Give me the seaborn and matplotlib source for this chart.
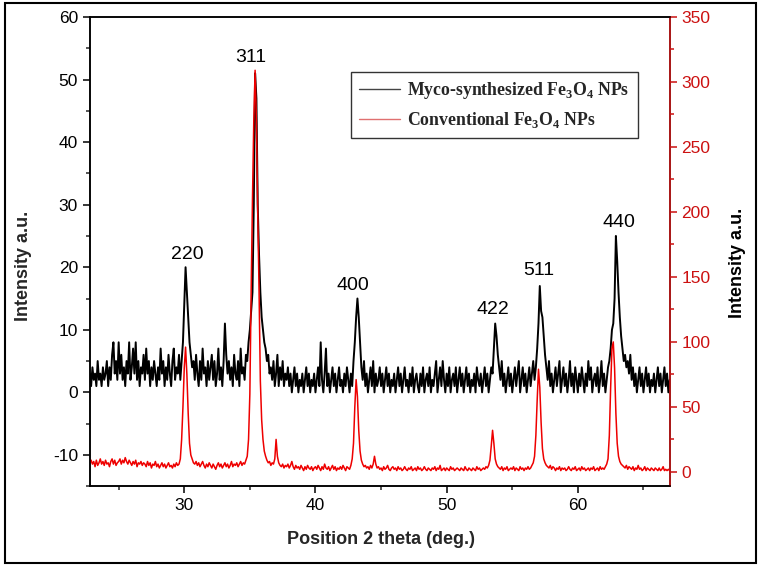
import numpy as np
import matplotlib
matplotlib.use("Agg")
import matplotlib.pyplot as plt
import seaborn as sns
from matplotlib.ticker import MultipleLocator
from matplotlib.patches import Rectangle

theta_start = 22.8
theta_step = 0.1

# Myco-synthesized Fe3O4 NPs, left axis
myco_counts = [
    3, 1,                                   # 22.8-22.9
    4, 2, 3, 1, 5, 2, 3, 1, 4, 2,           # 23
    3, 5, 1, 4, 2, 6, 8, 3, 5, 2,           # 24
    8, 3, 6, 2, 4, 1, 5, 3, 8, 2,           # 25
    4, 7, 3, 8, 2, 5, 1, 4, 3, 6,           # 26
    2, 7, 3, 5, 1, 4, 2, 5, 3, 1,           # 27
    4, 2, 7, 3, 5, 1, 4, 2, 6, 3,           # 28
    1, 5, 7, 2, 4, 3, 6, 2, 5, 8,           # 29
    14, 20, 16, 12, 8, 6, 4, 5, 2, 6,       # 30
    3, 1, 5, 2, 7, 3, 4, 1, 5, 2,           # 31
    4, 6, 2, 5, 1, 3, 7, 2, 4, 1,           # 32
    5, 11, 6, 3, 5, 2, 4, 1, 6, 3,          # 33
    2, 5, 1, 7, 3, 4, 2, 6, 5, 8,           # 34
    10, 13, 16, 30, 51, 47, 30, 22, 16, 12, # 35
    10, 8, 7, 5, 6, 3, 4, 2, 5, 1,          # 36
    3, 6, 1, 4, 2, 5, 1, 3, 2, 4,           # 37
    1, 3, 0, 2, 4, 1, 3, 0, 2, 1,           # 38
    3, 0, 2, 4, 1, 3, 0, 2, 1, 3,           # 39
    0, 2, 4, 1, 8, 2, 0, 3, 7, 1,           # 40
    3, 0, 2, 4, 1, 3, 0, 2, 4, 1,           # 41
    2, 0, 3, 1, 4, 2, 0, 3, 1, 5,           # 42
    8, 12, 15, 12, 8, 4, 2, 5, 1, 3,        # 43
    0, 2, 4, 1, 5, 0, 3, 1, 2, 4,           # 44
    1, 3, 0, 2, 4, 1, 3, 0, 2, 1,           # 45
    3, 0, 2, 4, 1, 3, 0, 2, 4, 1,           # 46
    2, 0, 3, 1, 4, 0, 2, 3, 1, 0,           # 47
    3, 1, 4, 0, 2, 3, 1, 4, 0, 2,           # 48
    1, 3, 5, 0, 2, 4, 1, 5, 2, 0,           # 49
    3, 1, 4, 0, 2, 3, 1, 4, 0, 2,           # 50
    4, 1, 3, 0, 2, 4, 1, 3, 0, 2,           # 51
    1, 3, 0, 4, 2, 1, 3, 0, 2, 4,           # 52
    1, 3, 0, 2, 4, 3, 7, 11, 9, 6,          # 53
    4, 2, 5, 1, 3, 0, 2, 4, 1, 3,           # 54
    0, 2, 4, 1, 3, 5, 0, 2, 4, 1,           # 55
    3, 0, 2, 4, 1, 3, 5, 2, 4, 7,           # 56
    11, 17, 13, 12, 9, 6, 4, 2, 5, 1,       # 57
    3, 0, 2, 4, 1, 3, 5, 0, 2, 4,           # 58
    1, 3, 0, 2, 5, 1, 3, 0, 4, 2,           # 59
    0, 3, 1, 4, 2, 0, 3, 1, 5, 2,           # 60
    4, 0, 2, 3, 1, 4, 0, 2, 5, 1,           # 61
    3, 0, 2, 4, 5, 7, 10, 11, 15, 25,       # 62
    21, 16, 12, 9, 7, 5, 6, 4, 5, 3,        # 63
    6, 2, 4, 1, 3, 0, 2, 4, 1, 3,           # 64
    0, 2, 4, 1, 3, 0, 2, 1, 3, 0,           # 65
    2, 4, 1, 3, 0, 2, 4, 1, 3, 0,           # 66
    2,                                      # 67.0
]

# Conventional Fe3O4 NPs, right axis
conv_counts = [
    7, 9,                                        # 22.8-22.9
    6, 8, 4, 9, 5, 7, 10, 6, 8, 5,               # 23
    9, 6, 7, 4, 8, 10, 6, 9, 5, 7,               # 24
    8, 10, 6, 9, 7, 11, 8, 6, 9, 7,              # 25
    5, 8, 6, 9, 4, 7, 6, 8, 5, 7,                # 26
    6, 4, 8, 5, 7, 3, 6, 5, 8, 4,                # 27
    6, 3, 5, 7, 4, 6, 3, 5, 7, 4,                # 28
    5, 3, 6, 4, 7, 5, 6, 10, 25, 50,             # 29
    80, 96, 75, 45, 22, 13, 10, 7, 6, 8,         # 30
    5, 7, 4, 6, 8, 5, 3, 6, 4, 7,                # 31
    5, 3, 6, 4, 2, 5, 7, 4, 6, 3,                # 32
    5, 7, 4, 6, 3, 5, 8, 4, 6, 5,                # 33
    7, 4, 6, 8, 5, 7, 6, 9, 12, 25,              # 34
    60, 140, 210, 270, 309, 270, 200, 140, 70, 40,  # 35
    25, 16, 12, 9, 7, 8, 5, 7, 6, 10,            # 36
    25, 12, 7, 5, 4, 6, 3, 5, 4, 6,              # 37
    3, 5, 8, 4, 2, 5, 3, 4, 2, 5,                # 38
    3, 1, 4, 2, 5, 3, 2, 4, 1, 3,                # 39
    4, 2, 5, 3, 1, 4, 2, 6, 3, 2,                # 40
    4, 1, 3, 5, 2, 4, 1, 3, 2, 4,                # 41
    2, 5, 3, 1, 4, 3, 2, 5, 10, 22,              # 42
    50, 71, 58, 32, 16, 9, 6, 4, 5, 3,           # 43
    4, 2, 5, 3, 6, 12, 6, 3, 4, 2,               # 44
    3, 1, 4, 2, 3, 5, 2, 1, 3, 4,                # 45
    2, 3, 1, 4, 2, 3, 1, 2, 4, 2,                # 46
    1, 3, 2, 4, 1, 2, 3, 1, 4, 2,                # 47
    3, 1, 2, 4, 2, 1, 3, 2, 1, 3,                # 48
    2, 4, 1, 3, 2, 5, 1, 2, 3, 1,                # 49
    3, 2, 1, 4, 2, 3, 1, 2, 3, 2,                # 50
    1, 3, 2, 1, 4, 2, 1, 3, 2, 1,                # 51
    3, 2, 1, 4, 2, 3, 1, 2, 3, 2,                # 52
    4, 3, 5, 9, 20, 32, 22, 10, 6, 4,            # 53
    3, 2, 4, 1, 3, 2, 4, 1, 2, 3,                # 54
    2, 4, 1, 3, 2, 1, 4, 2, 3, 1,                # 55
    3, 2, 4, 2, 3, 5, 7, 12, 28, 55,             # 56
    79, 65, 38, 18, 10, 7, 5, 4, 3, 5,           # 57
    2, 4, 3, 1, 3, 2, 4, 1, 3, 2,                # 58
    3, 1, 2, 4, 2, 1, 3, 2, 4, 1,                # 59
    2, 3, 1, 4, 2, 3, 1, 2, 3, 1,                # 60
    3, 2, 4, 1, 2, 3, 1, 4, 2, 3,                # 61
    2, 4, 6, 10, 28, 65, 95, 100, 80, 45,        # 62
    22, 12, 8, 6, 5, 4, 3, 5, 2, 4,              # 63
    3, 2, 4, 1, 3, 2, 5, 2, 3, 1,                # 64
    2, 4, 1, 3, 2, 1, 3, 2, 1, 3,                # 65
    2, 1, 3, 1, 2, 4, 1, 2, 1, 2,                # 66
    1,                                           # 67.0
]

# Miller index annotations (label, 2theta, left-axis height)
peak_labels = ["220", "311", "400", "422", "511", "440"]
peak_theta = [30.2, 35.05, 42.85, 53.5, 57.0, 63.1]
peak_height = [22.0, 53.6, 17.0, 13.3, 19.5, 27.2]

sns.set_style("ticks")
plt.rcParams["font.family"] = ["Liberation Sans", "DejaVu Sans"]
plt.rcParams["axes.unicode_minus"] = False
plt.rcParams["mathtext.fontset"] = "custom"
plt.rcParams["mathtext.rm"] = "Liberation Serif:bold"
plt.rcParams["mathtext.bf"] = "Liberation Serif:bold"

AXIS_RED = "#cc1111"
LINE_RED = "#ee0000"

theta_myco = theta_start + theta_step * np.arange(len(myco_counts))
theta_conv = theta_start + theta_step * np.arange(len(conv_counts))

fig = plt.figure(figsize=(7.61, 5.66), dpi=100)
ax = fig.add_axes([0.118, 0.141, 0.762, 0.829])
ax2 = ax.twinx()

sns.lineplot(x=theta_myco, y=myco_counts, ax=ax, color="black", lw=1.4, sort=False,
             label=r"Myco-synthesized Fe$_3$O$_4$ NPs", legend=False)
sns.lineplot(x=theta_conv, y=conv_counts, ax=ax2, color=LINE_RED, lw=1.1, sort=False,
             label=r"Conventional Fe$_3$O$_4$ NPs", legend=False)

ax.set_xlim(22.8, 67.0)
ax.set_ylim(-15, 60)
ax2.set_ylim(-11, 350)

ax.xaxis.set_major_locator(MultipleLocator(10))
ax.xaxis.set_minor_locator(MultipleLocator(5))
ax.yaxis.set_major_locator(MultipleLocator(10))
ax.yaxis.set_minor_locator(MultipleLocator(5))
ax2.yaxis.set_major_locator(MultipleLocator(50))
ax2.yaxis.set_minor_locator(MultipleLocator(25))

for a in (ax, ax2):
    for s in a.spines.values():
        s.set_linewidth(1.1)
        s.set_color("black")
ax2.spines["right"].set_color(AXIS_RED)

ax.tick_params(axis="both", which="major", direction="out", length=5, width=1.1,
               labelsize=12.5, colors="black", top=False, right=False)
ax.tick_params(axis="both", which="minor", direction="out", length=3, width=1.1,
               top=False, right=False)
ax2.tick_params(axis="y", which="major", direction="out", length=5, width=1.1,
                labelsize=12.5, colors=AXIS_RED)
ax2.tick_params(axis="y", which="minor", direction="out", length=3, width=1.1,
                colors=AXIS_RED)

ax.set_xlabel("Position 2 theta (deg.)", fontsize=13, fontweight="bold")
ax.set_ylabel("Intensity a.u.", fontsize=13, fontweight="bold")
ax2.set_ylabel("Intensity a.u.", fontsize=13, fontweight="bold", color="black")
ax.xaxis.set_label_coords(0.502, -0.095)
ax.yaxis.set_label_coords(-0.1, 0.47)
ax2.yaxis.set_label_coords(1.102, 0.475)

for lab, tx, ty in zip(peak_labels, peak_theta, peak_height):
    ax.text(tx, ty, lab, fontsize=14, ha="center", va="center", color="black")

h1, l1 = ax.get_legend_handles_labels()
h2, l2 = ax2.get_legend_handles_labels()
leg = ax2.legend(h1 + h2, l1 + l2, loc="upper right", bbox_to_anchor=(0.945, 0.883),
                 borderaxespad=0, frameon=True, fancybox=False, framealpha=1,
                 edgecolor="#333333", handlelength=2.3, handletextpad=0.4,
                 labelspacing=0.5, borderpad=0.45,
                 prop={"family": "Liberation Serif", "weight": "bold", "size": 12.8})
leg.get_frame().set_linewidth(1.0)
leg.get_lines()[0].set_color("#444444")
leg.get_lines()[0].set_linewidth(1.0)
leg.get_lines()[1].set_color("#e07070")
leg.get_lines()[1].set_linewidth(1.0)

fig.patches.append(Rectangle((0.006, 0.006), 0.988, 0.988, transform=fig.transFigure,
                             fill=False, edgecolor="black", lw=1.5))

fig.savefig("out.png", dpi=100)
